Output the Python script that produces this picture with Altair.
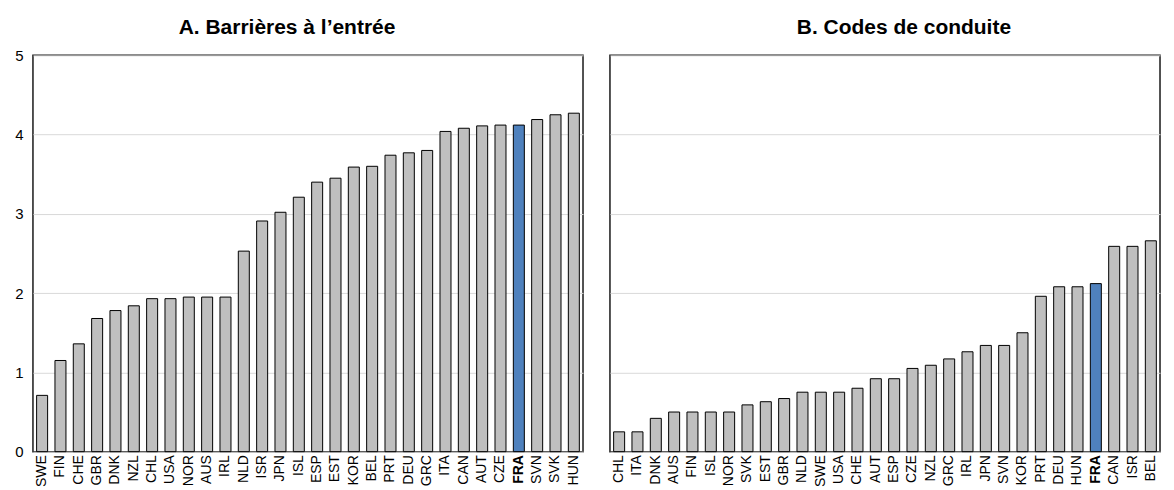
import altair as alt
import pandas as pd

countries_a = ["SWE","FIN","CHE","GBR","DNK","NZL","CHL","USA","NOR","AUS","IRL","NLD","ISR","JPN","ISL",
               "ESP","EST","KOR","BEL","PRT","DEU","GRC","ITA","CAN","AUT","CZE","FRA","SVN","SVK","HUN"]
values_a = [0.71,1.15,1.36,1.68,1.78,1.84,1.93,1.93,1.95,1.95,1.95,2.53,2.91,3.02,3.21,
            3.40,3.45,3.59,3.60,3.74,3.77,3.80,4.04,4.08,4.11,4.12,4.12,4.19,4.25,4.27]

countries_b = ["CHL","ITA","DNK","AUS","FIN","ISL","NOR","SVK","EST","GBR","NLD","SWE","USA","CHE","AUT",
               "ESP","CZE","NZL","GRC","IRL","JPN","SVN","KOR","PRT","DEU","HUN","FRA","CAN","ISR","BEL"]
values_b = [0.25,0.25,0.42,0.50,0.50,0.50,0.50,0.59,0.63,0.67,0.75,0.75,0.75,0.80,0.92,
            0.92,1.05,1.09,1.17,1.26,1.34,1.34,1.50,1.96,2.08,2.08,2.12,2.59,2.59,2.66]

title_a = "A. Barrières à l’entrée"
title_b = "B. Codes de conduite"

FONT = "Liberation Sans"
GRAY = "#bfbfbf"
BLUE = "#4f81bd"


def panel(countries, values, title, orient, dx):
    df = pd.DataFrame({"pays": countries, "valeur": values})
    return (
        alt.Chart(df, title=alt.TitleParams(title, fontSize=21, fontWeight="bold", font=FONT,
                                            color="black", offset=10, dx=dx))
        .mark_bar(stroke="black", strokeWidth=1)
        .encode(
            x=alt.X("pays:N", sort=None, title=None,
                    scale=alt.Scale(paddingInner=0.4, paddingOuter=0.2),
                    axis=alt.Axis(labelAngle=-90, labelFontSize=14, labelFont=FONT, labelColor="black",
                                  labelPadding=3, ticks=False, domain=False, labelAlign="right",
                                  labelBaseline="middle",
                                  labelFontWeight=alt.ExprRef("datum.value == 'FRA' ? 'bold' : 'normal'"))),
            y=alt.Y("valeur:Q", title=None,
                    scale=alt.Scale(domain=[0, 5], nice=False),
                    axis=alt.Axis(orient=orient, values=[0, 1, 2, 3, 4, 5], ticks=False, domain=False,
                                  labelFontSize=15, labelFont=FONT, labelColor="black", labelPadding=10,
                                  gridColor="#d9d9d9", gridWidth=1)),
            color=alt.condition(alt.datum.pays == "FRA", alt.value(BLUE), alt.value(GRAY)),
        )
        .properties(width=551, height=397)
    )


left = panel(countries_a, values_a, title_a, "left", -21)
right = panel(countries_b, values_b, title_b, "right", 19)

chart = (
    alt.hconcat(left, right, spacing=25)
    .configure(padding={"left": 5, "top": 8, "right": -14, "bottom": 0}, background="white")
    .configure_view(stroke="#1a1a1a", strokeWidth=1.5)
)

chart.save("out.html", embed_options={"renderer": "svg", "actions": False})
